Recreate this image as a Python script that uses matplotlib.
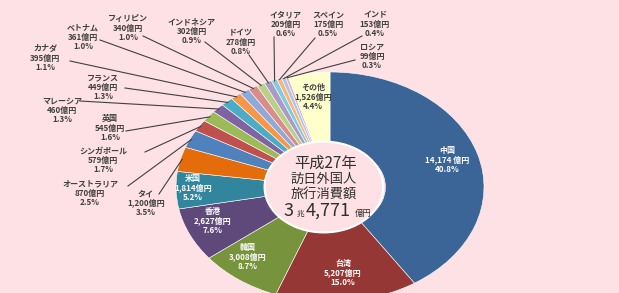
import numpy as np
import matplotlib.pyplot as plt
from matplotlib.patches import Ellipse

plt.rcParams['font.family'] = ['Noto Sans CJK JP', 'DejaVu Sans']

countries = ['中国', '台湾', '韓国', '香港', '米国', 'タイ', 'オーストラリア', 'シンガポール',
             '英国', 'マレーシア', 'フランス', 'カナダ', 'ベトナム', 'フィリピン', 'インドネシア',
             'ドイツ', 'イタリア', 'スペイン', 'インド', 'ロシア', 'その他']
values = [14174, 5207, 3008, 2627, 1814, 1200, 870, 579, 545, 460, 449, 395, 361, 340, 302,
          278, 209, 175, 153, 99, 1526]
pcts = ['40.8%', '15.0%', '8.7%', '7.6%', '5.2%', '3.5%', '2.5%', '1.7%', '1.6%', '1.3%', '1.3%',
        '1.1%', '1.0%', '1.0%', '0.9%', '0.8%', '0.6%', '0.5%', '0.4%', '0.3%', '4.4%']
colors = ['#3a6596', '#953735', '#77933c', '#5f497a', '#31859c', '#e46c0a',
          '#4f81bd', '#c0504d', '#9bbb59', '#8064a2', '#4bacc6', '#f79646',
          '#8faad8', '#d98c8a', '#b9d08a', '#a99bc4', '#86cbdc', '#f9b47f',
          '#afc5e3', '#dcb3c4', '#ffffcc']

W, H = 619, 293
bg = '#fde1e4'
# pie centre / radii in pixels (chart is stretched horizontally)
cx, cy, rx, ry = 330, 187, 154, 115

fig = plt.figure(figsize=(W / 100, H / 100), dpi=100)
fig.patch.set_facecolor(bg)

axp = fig.add_axes([(cx - rx) / W, (H - cy - ry) / H, 2 * rx / W, 2 * ry / H])
axp.set_facecolor('none')
wedges, _ = axp.pie(values, colors=colors, startangle=90, counterclock=False, radius=1,
                    wedgeprops=dict(width=0.64, edgecolor='white', linewidth=0.4))
axp.set_aspect('auto')
axp.set_xlim(-1, 1)
axp.set_ylim(-1, 1)
axp.add_patch(Ellipse((-0.04, 0), 0.77, 0.79, facecolor=bg, edgecolor='white', linewidth=1.5))
axp.axis('off')

ax = fig.add_axes([0, 0, 1, 1])
ax.set_xlim(0, W)
ax.set_ylim(H, 0)
ax.axis('off')
ax.set_facecolor('none')

# label positions (pixels); inside labels have no anchor
inside = {'中国': (447, 160), '台湾': (343, 273), '韓国': (248, 257), '香港': (213, 221),
          '米国': (193, 188), 'その他': (313, 97)}
outside = {'タイ': ((146, 203), (159, 194)), 'オーストラリア': ((90, 193), (128, 186)),
           'シンガポール': ((103, 160), (145, 152)), '英国': ((110, 128), (126, 131)),
           'マレーシア': ((62, 110), (80, 101)), 'フランス': ((103, 87), (125, 88)),
           'カナダ': ((45, 58), (70, 61)), 'ベトナム': ((83, 37), (100, 40)),
           'フィリピン': ((128, 28), (143, 36)), 'インドネシア': ((192, 31), (205, 42)),
           'ドイツ': ((241, 42), (249, 55)), 'イタリア': ((286, 24), (274, 37)),
           'スペイン': ((328, 24), (315, 38)), 'インド': ((375, 24), (362, 36)),
           'ロシア': ((372, 56), (355, 60))}

tc = '#404040'
for name, v, p, w in zip(countries, values, pcts, wedges):
    amt = f'{v:,}億円' if name != '中国' else f'{v:,} 億円'
    txt = f'{name}\n{amt}\n{p}'
    if name in inside:
        x, y = inside[name]
        col = tc if name == 'その他' else 'white'
        ax.text(x, y, txt, ha='center', va='center', fontsize=5.8, fontweight='bold',
                color=col, linespacing=1.05)
    else:
        (x, y), (ax0, ay0) = outside[name]
        ax.text(x, y, txt, ha='center', va='center', fontsize=5.8, fontweight='bold',
                color=tc, linespacing=1.05)
        th = np.deg2rad((w.theta1 + w.theta2) / 2)
        ex = cx + rx * 0.99 * np.cos(th)
        ey = cy - ry * 0.99 * np.sin(th)
        ax.plot([ax0, ex], [ay0, ey], color=tc, lw=0.8)

# centre text
ct = '#2f2f2f'
ax.text(326, 163, '平成27年', ha='center', va='center', fontsize=11, color=ct)
ax.text(324, 179, '訪日外国人', ha='center', va='center', fontsize=9.5, color=ct)
ax.text(324, 195, '旅行消費額', ha='center', va='center', fontsize=9.5, color=ct)
ax.text(289, 211, '3', ha='center', va='center', fontsize=13, color=ct)
ax.text(300, 214, '兆', ha='center', va='center', fontsize=5.5, color=ct)
ax.text(328, 211, '4,771', ha='center', va='center', fontsize=13, color=ct)
ax.text(363, 213, '億円', ha='center', va='center', fontsize=6, color=ct)

fig.savefig('out.png', dpi=100, facecolor=bg)
